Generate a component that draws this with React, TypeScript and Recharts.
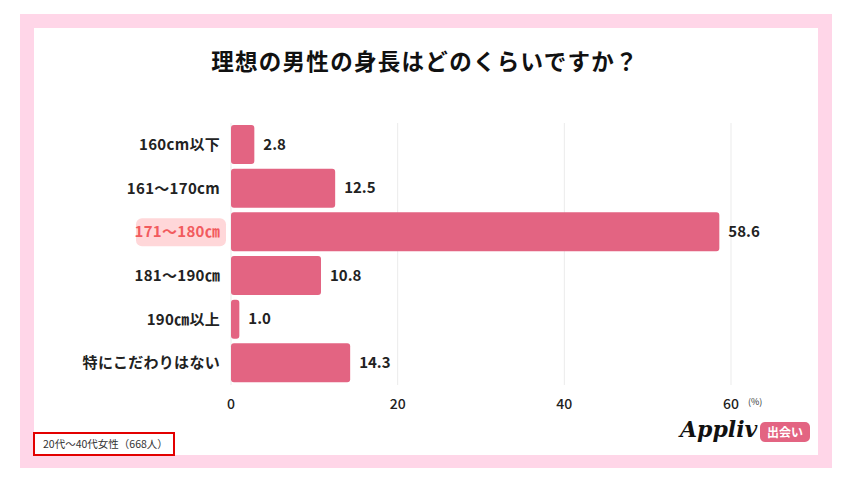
import React from 'react';
import { BarChart, Bar, XAxis, YAxis, CartesianGrid, LabelList, Cell } from 'recharts';

const categories = ['160cm以下', '161～170cm', '171～180㎝', '181～190㎝', '190㎝以上', '特にこだわりはない'];
const values = [2.8, 12.5, 58.6, 10.8, 1.0, 14.3];
const xTicks = [0, 20, 40, 60];
const highlighted = '171～180㎝';

const data = categories.map((name, i) => ({ name, value: values[i] }));

const FONT = '"Noto Sans CJK JP", "Noto Sans", sans-serif';
const BAR = '#E36482';

const CategoryTick = (props: any) => {
  const { x, y, payload } = props;
  const hot = payload.value === highlighted;
  return (
    <g>
      {hot && <rect x={x - 87} y={y - 14} width={90} height={28} rx={6} fill="#FFD7D9" />}
      <text
        x={x - 3}
        y={y}
        dy="0.35em"
        textAnchor="end"
        fontFamily={FONT}
        fontWeight={700}
        fontSize={15}
        letterSpacing={0.3}
        fill={hot ? '#F25B5E' : '#222'}
      >
        {payload.value}
      </text>
    </g>
  );
};

export default function App() {
  return (
    <div style={{ position: 'absolute', left: 0, top: 0, width: 850, height: 479, background: '#fff', fontFamily: FONT }}>
      {/* pink frame */}
      <div style={{ position: 'absolute', left: 20, top: 14, width: 812, height: 454, background: '#FFD6E8' }} />
      <div style={{ position: 'absolute', left: 34, top: 28, width: 784, height: 427, background: '#fff' }} />

      <div style={{ position: 'absolute', left: 0, top: 44, width: 850, textAlign: 'center', fontSize: 22.5, fontWeight: 700, color: '#111', letterSpacing: 1.3 }}>
        理想の男性の身長はどのくらいですか？
      </div>

      <div style={{ position: 'absolute', left: 0, top: 0 }}>
        <BarChart
          width={850}
          height={479}
          data={data}
          layout="vertical"
          margin={{ top: 123, right: 119, left: 131, bottom: 64 }}
          barSize={39}
        >
          <CartesianGrid horizontal={false} stroke="#EBEBEB" />
          <XAxis
            type="number"
            domain={[0, 60]}
            ticks={xTicks}
            axisLine={false}
            tickLine={false}
            tickMargin={8}
            height={30}
            tick={{ fill: '#222', fontSize: 14, fontWeight: 500, fontFamily: FONT }}
          />
          <YAxis
            type="category"
            dataKey="name"
            width={100}
            axisLine={false}
            tickLine={false}
            tick={<CategoryTick />}
          />
          <Bar dataKey="value" radius={3} isAnimationActive={false}>
            {data.map((d, i) => (
              <Cell key={i} fill={BAR} />
            ))}
            <LabelList
              dataKey="value"
              position="right"
              offset={9}
              formatter={(v: any) => Number(v).toFixed(1)}
              style={{ fill: '#222', fontSize: 15, fontWeight: 700, fontFamily: FONT }}
            />
          </Bar>
        </BarChart>
      </div>

      <div style={{ position: 'absolute', left: 748, top: 395, fontSize: 9, color: '#333' }}>(%)</div>

      {/* sample note */}
      <div
        style={{
          position: 'absolute',
          left: 33,
          top: 432,
          width: 130,
          height: 20,
          border: '2px solid #E30000',
          fontSize: 10.5,
          color: '#333',
          lineHeight: '20px',
          paddingLeft: 8,
          boxSizing: 'content-box',
        }}
      >
        20代～40代女性（668人）
      </div>

      {/* logo */}
      <div
        style={{
          position: 'absolute',
          left: 680,
          top: 416,
          fontFamily: '"DejaVu Serif", serif',
          fontStyle: 'italic',
          fontWeight: 700,
          fontSize: 22,
          color: '#111',
        }}
      >
        Appliv
      </div>
      <div
        style={{
          position: 'absolute',
          left: 760,
          top: 422,
          width: 50,
          height: 20,
          borderRadius: 5,
          background: BAR,
          color: '#fff',
          fontSize: 12,
          fontWeight: 700,
          textAlign: 'center',
          lineHeight: '20px',
        }}
      >
        出会い
      </div>
    </div>
  );
}
